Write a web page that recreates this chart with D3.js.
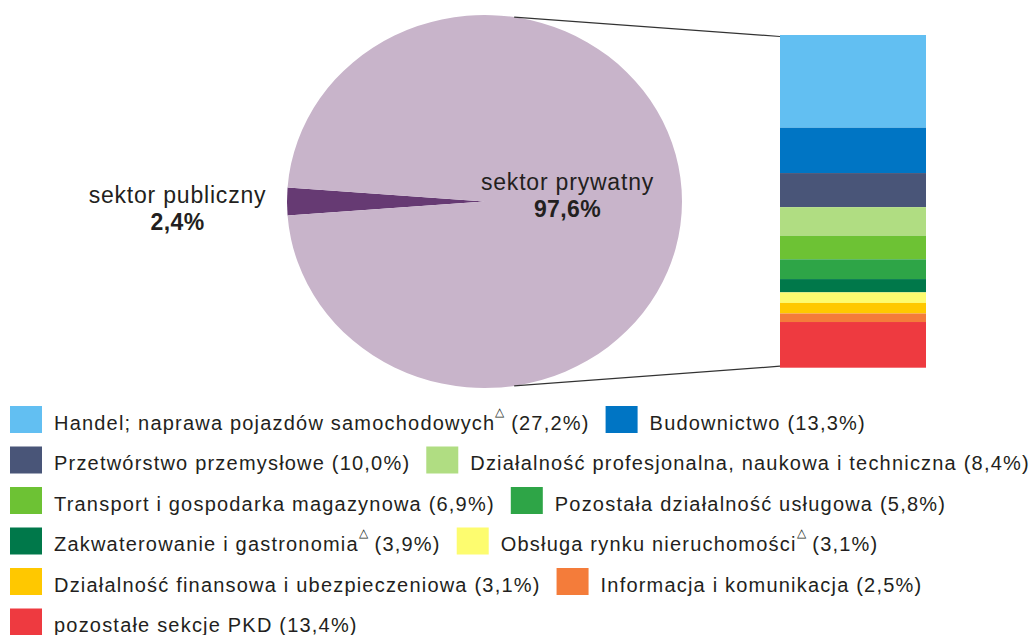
<!DOCTYPE html>
<html>
<head>
<meta charset="utf-8">
<script src="https://cdn.jsdelivr.net/npm/d3@7"></script>
<style>
  html, body { margin: 0; padding: 0; background: #fff; }
  svg { display: block; font-family: "Liberation Sans", Arial, sans-serif; }
</style>
</head>
<body>
<svg id="chart" width="1034" height="635"></svg>
<script>
// sectors (pie)
const sectorNames = ["sektor publiczny", "sektor prywatny"];
const sectorValues = [2.4, 97.6];
const sectorLabels = ["2,4%", "97,6%"];
const sectorColors = ["#663a73", "#c8b4ca"];

// private sector split (bar)
const branchNames = [
  "Handel; naprawa pojazdów samochodowych",
  "Budownictwo",
  "Przetwórstwo przemysłowe",
  "Działalność profesjonalna, naukowa i techniczna",
  "Transport i gospodarka magazynowa",
  "Pozostała działalność usługowa",
  "Zakwaterowanie i gastronomia",
  "Obsługa rynku nieruchomości",
  "Działalność finansowa i ubezpieczeniowa",
  "Informacja i komunikacja",
  "pozostałe sekcje PKD"
];
const branchValues = [27.2, 13.3, 10.0, 8.4, 6.9, 5.8, 3.9, 3.1, 3.1, 2.5, 13.4];
const branchLabels = ["27,2%", "13,3%", "10,0%", "8,4%", "6,9%", "5,8%", "3,9%", "3,1%", "3,1%", "2,5%", "13,4%"];
const branchMarked = [true, false, false, false, false, false, true, true, false, false, false];
const branchColors = ["#62bff2", "#0075c4", "#495578", "#b0dd82", "#6dc234", "#2ea547",
                      "#00784a", "#fdfc6f", "#ffc800", "#f47c3a", "#ee3a40"];

const W = 1034, H = 635;
const TXT = "#231f20";
const svg = d3.select("#chart");
svg.append("rect").attr("width", W).attr("height", H).attr("fill", "#fff");

// Pie (slightly stretched horizontally, as in the original)
const cx = 484.5, cy = 201.5, ry = 186.5, rx = 197.5;
const slice = 2 * Math.PI * sectorValues[0] / d3.sum(sectorValues);
const pie = d3.pie().sort(null)
  .startAngle(-Math.PI / 2 - slice / 2)
  .endAngle(3 * Math.PI / 2 - slice / 2);
const arc = d3.arc().innerRadius(0).outerRadius(ry);

const gPie = svg.append("g").attr("transform", `translate(${cx},${cy}) scale(${rx / ry},1)`);
gPie.selectAll("path").data(pie(sectorValues)).join("path")
  .attr("d", arc)
  .attr("fill", (d, i) => sectorColors[i]);

// Bar
const bx0 = 780, bx1 = 926;
const y = d3.scaleLinear().domain([0, d3.sum(branchValues)]).range([35, 367.7]);
const cum = d3.cumsum(branchValues);
const segs = branchValues.map((v, i) => ({ i, y0: cum[i] - v, y1: cum[i] }));

svg.append("g").selectAll("rect").data(segs).join("rect")
  .attr("x", bx0).attr("width", bx1 - bx0)
  .attr("y", d => y(d.y0))
  .attr("height", d => y(d.y1) - y(d.y0))
  .attr("fill", d => branchColors[d.i]);

// Connector lines
const pTop = [cx + rx * Math.sin(slice), cy - ry * Math.cos(slice)];
const pBot = [cx + rx * Math.sin(slice), cy + ry * Math.cos(slice)];
svg.append("line")
  .attr("x1", pTop[0]).attr("y1", pTop[1]).attr("x2", bx0).attr("y2", y(0) + 1.5)
  .attr("stroke", "#333").attr("stroke-width", 1.2);
svg.append("line")
  .attr("x1", pBot[0]).attr("y1", pBot[1]).attr("x2", bx0).attr("y2", y(d3.sum(branchValues)) - 1.5)
  .attr("stroke", "#333").attr("stroke-width", 1.2);

// Pie labels
const pieLab = [
  { x: 177.5, y: 203 },
  { x: 567.5, y: 190 }
];
sectorNames.forEach((n, i) => {
  svg.append("text")
    .attr("x", pieLab[i].x).attr("y", pieLab[i].y)
    .attr("text-anchor", "middle")
    .style("fill", TXT).style("font-size", "23px").style("letter-spacing", "0.8px")
    .text(n);
  svg.append("text")
    .attr("x", pieLab[i].x).attr("y", pieLab[i].y + 27)
    .attr("text-anchor", "middle")
    .style("fill", TXT).style("font-size", "23px").style("font-weight", "bold").style("letter-spacing", "0.4px")
    .text(sectorLabels[i]);
});

// Legend (flowing rows)
const lg = svg.append("g");
const sw = 32, sh = 27, gapT = 12, gapItem = 16, rowH = 40.5, maxW = 1032;
let lx = 10, ly = 429.5;
branchNames.forEach((n, i) => {
  const item = lg.append("g");
  const t = item.append("text")
    .attr("x", sw + gapT).attr("y", 0)
    .style("fill", TXT).style("font-size", "20px").style("letter-spacing", "1.2px");
  t.append("tspan").text(n);
  if (branchMarked[i]) {
    t.append("tspan").attr("dy", -14).style("font-size", "12px").style("letter-spacing", "0px").text("\u25B3");
    t.append("tspan").attr("dy", 14).text(` (${branchLabels[i]})`);
  } else {
    t.append("tspan").text(` (${branchLabels[i]})`);
  }
  const w = sw + gapT + t.node().getComputedTextLength();
  if (lx + w > maxW) { lx = 10; ly += rowH; }
  item.attr("transform", `translate(${lx},${ly})`);
  item.insert("rect", "text")
    .attr("x", 0).attr("y", -23.5).attr("width", sw).attr("height", sh)
    .attr("fill", branchColors[i]);
  lx += w + gapItem;
});
</script>
</body>
</html>
